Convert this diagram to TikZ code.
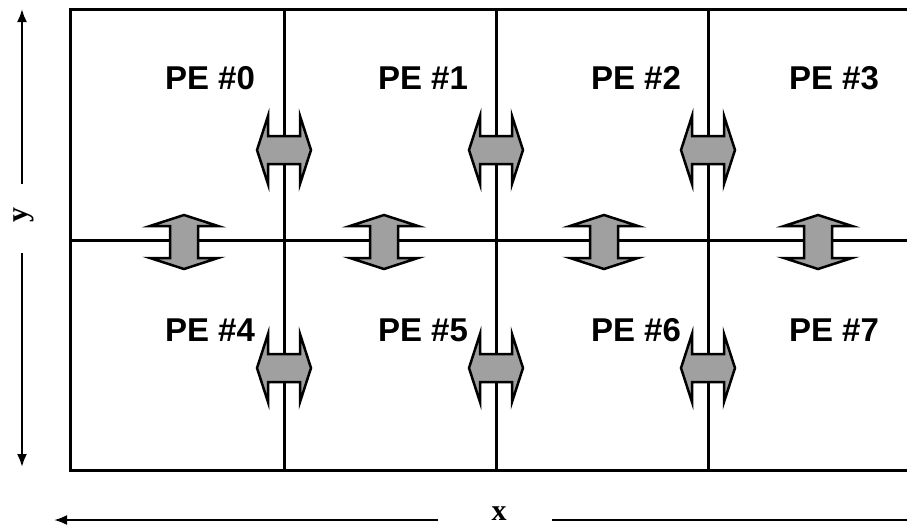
\documentclass[tikz,border=0pt]{standalone}
\usepackage{fontspec}
\setmainfont{Liberation Serif}
\newfontfamily\arialfont{Liberation Sans}
\usetikzlibrary{arrows.meta}
\definecolor{arrgray}{RGB}{160,160,160}
\tikzset{
  gridline/.style={line width=3pt, black},
  pelabel/.style={font=\arialfont\bfseries\fontsize{33}{35}\selectfont, inner sep=0pt},
  axislabel/.style={font=\bfseries\fontsize{30}{32}\selectfont, inner sep=0pt},
  xchg/.style={fill=arrgray, draw=black, line width=2.5pt, line join=miter},
  axisarrow/.style={line width=2.2pt, -{Latex[length=13pt,width=10pt]}},
  hx/.pic={\draw[xchg] (-27,0)--(-16,-34)--(-16,-14)--(16,-14)--(16,-34)--(27,0)--(16,34)--(16,14)--(-16,14)--(-16,34)--cycle;},
  vx/.pic={\draw[xchg] (0,-27)--(-34,-16)--(-14,-16)--(-14,16)--(-34,16)--(0,27)--(34,16)--(14,16)--(14,-16)--(34,-16)--cycle;},
}
\begin{document}
\begin{tikzpicture}[x=1pt,y=-1pt]
\useasboundingbox (0,0) rectangle (907,528);
\clip (0,0) rectangle (907,528);
% grid corners
\coordinate (tl) at (70,9);
\coordinate (bl) at (70,470);
\coordinate (tr) at (915,9);
\coordinate (br) at (915,470);
\coordinate (ml) at (70,240);
\coordinate (mr) at (915,240);
\foreach \n/\x in {a/284,b/496,c/708}{
  \coordinate (\n t) at (\x,9);
  \coordinate (\n b) at (\x,470);
}
\draw[gridline] (tr) -- (tl) -- (bl) -- (br);
\draw[gridline] (ml) -- (mr);
\foreach \n in {a,b,c}{\draw[gridline] (\n t) -- (\n b);}
% exchange arrows
\foreach \x in {284,496,708}{
  \pic at (\x,150) {hx};
  \pic at (\x,368) {hx};
}
\foreach \x in {184,384,604,818}{
  \pic at (\x,242) {vx};
}
% labels
\node[pelabel] (pe0) at (210,78) {PE \#0};
\node[pelabel] (pe1) at (423,78) {PE \#1};
\node[pelabel] (pe2) at (636,78) {PE \#2};
\node[pelabel] (pe3) at (834,78) {PE \#3};
\node[pelabel] (pe4) at (210,330) {PE \#4};
\node[pelabel] (pe5) at (423,330) {PE \#5};
\node[pelabel] (pe6) at (636,330) {PE \#6};
\node[pelabel] (pe7) at (834,330) {PE \#7};
% axes
\node[axislabel, rotate=90] (ylab) at (24,215) {y};
\coordinate (ytop) at (22,9);
\coordinate (ybot) at (22,467);
\draw[axisarrow] (22,184) -- (ytop);
\draw[axisarrow] (22,253) -- (ybot);
\node[axislabel] (xlab) at (499,514) {x};
\coordinate (xleft) at (54,520);
\coordinate (xright) at (912,520);
\draw[axisarrow] (438,520) -- (xleft);
\draw[line width=2.2pt] (552,520) -- (xright);
\end{tikzpicture}
\end{document}
